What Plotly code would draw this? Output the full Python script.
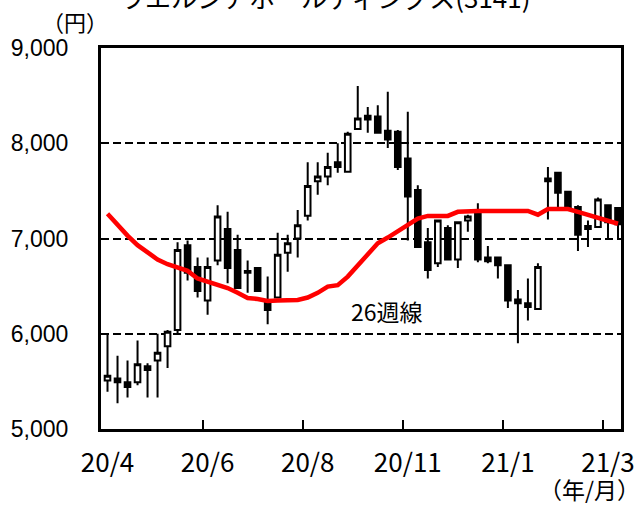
import plotly.graph_objects as go

# weekly candles, 2020/4 - 2021/3
week_index = list(range(52))
opens  = [5510,5530,5490,5490,5660,5720,5870,6040,6930,6700,6350,6770,7100,6880,6660,6690,6350,6380,6850,7000,
          7240,7600,7650,7800,7700,8150,8290,8280,8130,8120,7840,7510,6960,6740,7110,6780,7190,7280,6800,6800,
          6720,6360,6320,6260,7630,7690,7490,7330,7100,7120,7350,7320]
highs  = [6000,5770,5720,5930,5690,6000,6040,6960,6980,6800,6800,7350,7280,7040,6770,6700,6600,7060,7040,7300,
          7800,7800,7900,8000,8120,8600,8380,8400,8540,8140,8330,7560,7110,7200,7140,7180,7250,7370,6920,6810,
          6730,6460,6580,6740,7750,7690,7490,7350,7190,7430,7360,7330]
lows   = [5390,5270,5330,5460,5330,5330,5640,6000,6560,6380,6200,6720,6530,6470,6430,6440,6100,6370,6650,6800,
          7190,7460,7560,7690,7700,8140,8110,8110,7950,7720,6980,6910,6580,6700,6770,6690,7070,6750,6740,6580,
          6270,5900,6140,6260,7200,7330,7300,6870,6910,7110,6990,6990]
closes = [5560,5490,5440,5680,5620,5800,6020,6880,6640,6450,6700,7230,6690,6480,6640,6450,6250,6830,6950,7140,
          7550,7650,7750,7750,8100,8260,8250,8110,8040,7750,7440,6910,6670,7190,6780,7170,7230,6780,6760,6720,
          6350,6320,6280,6700,7600,7480,7300,7040,7130,7410,7170,7150]
ma26   = [7260,7140,7030,6930,6860,6780,6730,6690,6660,6580,6550,6515,6480,6430,6375,6365,6345,6350,6350,6355,
          6380,6430,6495,6510,6600,6720,6840,6950,7010,7080,7150,7210,7237,7237,7237,7280,7290,7290,7290,7290,
          7290,7290,7290,7250,7310,7310,7310,7280,7250,7220,7190,7155]

tick_pos = [0, 10, 20, 30, 40, 50]
tick_text = ["20/4", "20/6", "20/8", "20/11", "21/1", "21/3"]
tick_marks = [9.5, 19.5, 29.5, 39.5, 49.5]
y_ticks = [5000, 6000, 7000, 8000, 9000]

JP = "Noto Sans CJK JP"
XR = [-0.65, 51.3]

fig = go.Figure()
fig.add_trace(go.Candlestick(
    x=week_index, open=opens, high=highs, low=lows, close=closes,
    increasing=dict(fillcolor="white", line=dict(color="black", width=2)),
    decreasing=dict(fillcolor="black", line=dict(color="black", width=2)),
    whiskerwidth=0, showlegend=False, hoverinfo="skip"))
fig.add_trace(go.Scatter(x=week_index, y=ma26, mode="lines",
                         line=dict(color="#ff0000", width=4.5), showlegend=False))

fig.update_layout(
    width=637, height=506,
    margin=dict(l=101, r=16, t=48, b=77, autoexpand=False),
    paper_bgcolor="white", plot_bgcolor="white",
    boxgap=0.2,
    xaxis=dict(range=XR, tickvals=tick_pos, ticktext=tick_text, ticks="",
               automargin=False,
               showgrid=False, zeroline=False, showline=True, linecolor="black",
               linewidth=3, mirror=True, rangeslider=dict(visible=False),
               tickfont=dict(family=JP, size=26, color="black"), ticklabelstandoff=9),
    xaxis2=dict(range=XR, overlaying="x", side="bottom", tickvals=tick_marks,
                ticks="inside", ticklen=9, tickwidth=2, tickcolor="black", automargin=False,
                showticklabels=False, showgrid=False, zeroline=False, showline=False),
    yaxis=dict(range=[5000, 9000], tickvals=y_ticks, tickformat=",", ticks="",
               automargin=False,
               showgrid=True, gridcolor="black", gridwidth=2, griddash="8px,4px",
               zeroline=False, showline=True, linecolor="black", linewidth=3, mirror=True,
               tickfont=dict(family="Arial, Liberation Sans", size=23, color="black"),
               ticklabelstandoff=25),
    annotations=[
        dict(text="ウエルシアホールディングス(3141)", xref="paper", yref="paper",
             x=0.43, y=1.082, xanchor="center", yanchor="bottom", showarrow=False,
             font=dict(family=JP, size=26, color="black")),
        dict(text="（円）", xref="paper", yref="paper", x=-0.05, y=1.07,
             xanchor="center", yanchor="middle", showarrow=False,
             font=dict(family=JP, size=22, color="black")),
        dict(text="（年/月）", xref="paper", yref="paper", x=0.94, y=-0.158,
             xanchor="center", yanchor="middle", showarrow=False,
             font=dict(family=JP, size=23, color="black")),
        dict(text="26週線", xref="x", yref="y", x=27.9, y=6237,
             xanchor="center", yanchor="middle", showarrow=False,
             font=dict(family=JP, size=23, color="black")),
    ],
)
fig.add_trace(go.Scatter(x=[None], y=[None], xaxis="x2", showlegend=False))

fig.write_html("out.html", config={"displayModeBar": False},
               post_script="document.body.style.margin='0';document.body.style.overflow='hidden';")
